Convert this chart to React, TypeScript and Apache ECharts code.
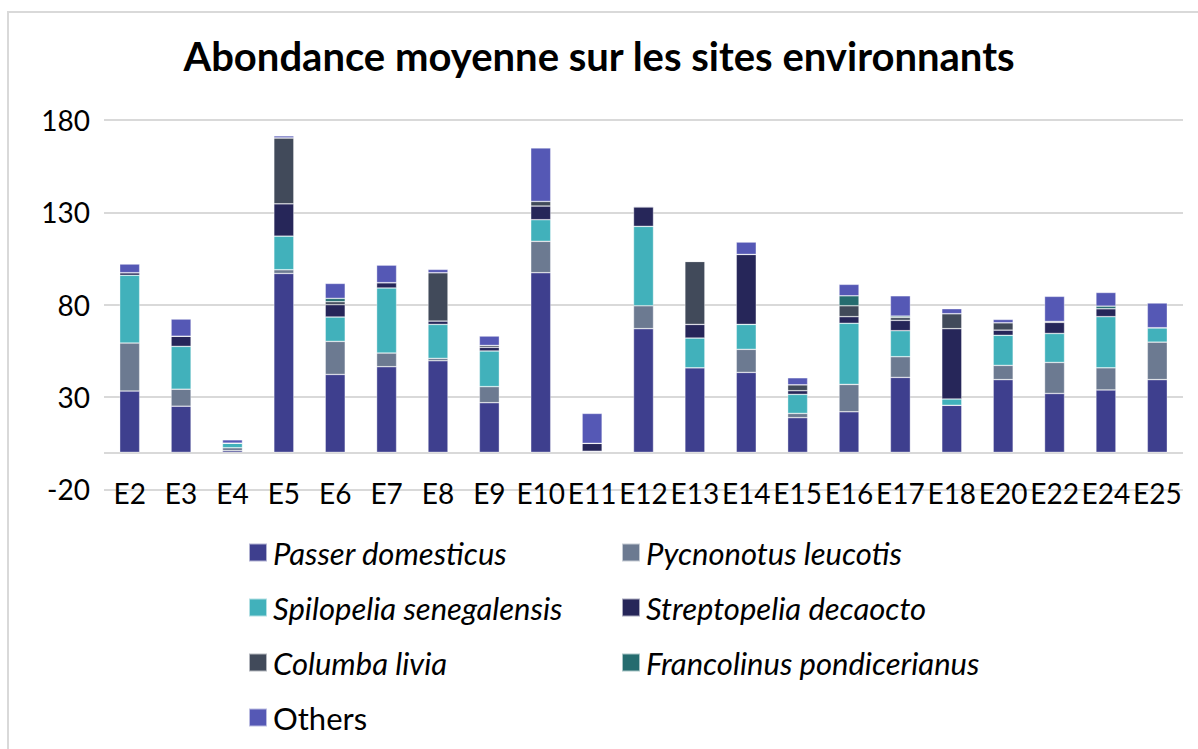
import React, { useEffect, useRef } from "react";
import * as echarts from "echarts";

const categories = ["E2","E3","E4","E5","E6","E7","E8","E9","E10","E11","E12","E13","E14","E15","E16","E17","E18","E20","E22","E24","E25"];
const seriesNames = ["Passer domesticus","Pycnonotus leucotis","Spilopelia senegalensis","Streptopelia decaocto","Columba livia","Francolinus pondicerianus","Others"];
const colors = ["#3E3F8E","#6C7A91","#41B1BB","#262659","#414A5A","#256C6F","#5558B5"];

const passer =       [33.2, 25.0, 0.9, 96.9, 42.2, 46.4, 49.6, 26.9, 97.3, 0.6, 67.0, 45.8, 43.3, 18.8, 22.0, 40.6, 25.5, 39.4, 31.9, 33.8, 39.4];
const pycnonotus =   [26.0, 9.2, 1.6, 2.0, 17.9, 7.4, 1.3, 8.7, 17.0, 0, 12.4, 0, 12.5, 2.3, 14.8, 11.2, 0, 7.7, 16.8, 12.0, 20.3];
const spilopelia =   [36.7, 23.2, 2.5, 18.2, 13.2, 35.2, 18.4, 19.3, 11.7, 0, 43.0, 16.1, 13.5, 10.3, 33.1, 14.1, 3.4, 16.3, 15.7, 27.7, 7.8];
const streptopelia = [1.4, 5.5, 0, 17.5, 6.7, 2.9, 1.8, 2.0, 7.4, 4.3, 10.6, 7.4, 37.9, 2.0, 3.6, 5.6, 38.1, 2.8, 6.0, 4.3, 0];
const columba =      [0, 0, 0, 35.7, 1.6, 0, 26.2, 1.0, 2.5, 0, 0, 34.1, 0, 3.2, 5.9, 1.6, 8.1, 4.0, 0.5, 0, 0];
const francolinus =  [0, 0, 0, 0, 1.8, 0, 0, 0, 0, 0, 0, 0, 0, 0, 5.4, 0.7, 0, 0, 0, 1.4, 0];
const others =       [4.7, 9.3, 1.8, 1.1, 8.1, 9.5, 1.8, 5.1, 29.0, 16.2, 0.4, 0, 6.7, 3.8, 6.2, 11.0, 2.7, 1.8, 13.6, 7.4, 13.4];

const yTicks = { min: -20, max: 180, interval: 50 };
const titleText = "Abondance moyenne sur les sites environnants";

const FONT = "Lato";

export default function App() {
  const ref = useRef<HTMLDivElement>(null);
  useEffect(() => {
    if (!ref.current) return;
    const chart = echarts.init(ref.current, null, { renderer: "svg" });
    const values = [passer, pycnonotus, spilopelia, streptopelia, columba, francolinus, others];
    const series: any[] = values.map((arr, i) => ({
      name: seriesNames[i],
      type: "bar",
      stack: "total",
      barWidth: 20,
      data: arr,
      itemStyle: { color: colors[i], borderColor: "rgba(255,255,255,0.6)", borderWidth: 0.6 },
      ...(i === 0
        ? {
            markLine: {
              silent: true,
              symbol: "none",
              label: { show: false },
              lineStyle: { color: "#d9d9d9", width: 2, type: "solid" },
              data: [{ yAxis: 0 }],
              z: 1,
            },
          }
        : {}),
    }));
    const legendText = {
      fontFamily: FONT,
      fontSize: 31,
      fontStyle: "italic",
      color: "#000",
      lineHeight: 31,
      padding: [0, 0, 0, 1],
    };
    const item = (name: string) =>
      name === "Others" ? { name, textStyle: { fontStyle: "normal" } } : { name };
    const legendBase = {
      orient: "vertical",
      top: 537,
      padding: 0,
      itemWidth: 18,
      itemHeight: 18,
      itemGap: 24,
      icon: "rect",
      textStyle: legendText,
      selectedMode: false,
    };
    chart.setOption({
      animation: false,
      backgroundColor: "#fff",
      title: {
        text: titleText,
        left: "center",
        top: 36,
        padding: 0,
        textStyle: { fontFamily: FONT, fontWeight: "bold", fontSize: 40, color: "#000" },
      },
      grid: { left: 104, right: 15, top: 120, bottom: 259.7, containLabel: false },
      xAxis: {
        type: "category",
        data: categories,
        position: "bottom",
        axisLine: { show: false, onZero: false },
        axisTick: { show: false },
        axisLabel: {
          fontFamily: FONT,
          fontSize: 28,
          color: "#000",
          verticalAlign: "middle",
          margin: 4,
          interval: 0,
        },
      },
      yAxis: {
        type: "value",
        min: yTicks.min,
        max: yTicks.max,
        interval: yTicks.interval,
        axisLine: { show: false },
        axisTick: { show: false },
        splitLine: { lineStyle: { color: "#d9d9d9", width: 2 } },
        axisLabel: { fontFamily: FONT, fontSize: 28, color: "#000", margin: 14 },
      },
      legend: [
        {
          ...legendBase,
          left: 248,
          data: [seriesNames[0], seriesNames[2], seriesNames[4], seriesNames[6]].map(item),
        },
        {
          ...legendBase,
          left: 621,
          data: [seriesNames[1], seriesNames[3], seriesNames[5]].map(item),
        },
      ],
      graphic: [
        {
          type: "rect",
          shape: { x: 8, y: 12, width: 1400, height: 1000 },
          style: { fill: "none", stroke: "#d9d9d9", lineWidth: 2 },
          silent: true,
          z: -1,
        },
      ],
      series,
    });
    return () => chart.dispose();
  }, []);
  return <div ref={ref} style={{ position: "fixed", left: 0, top: 0, width: 1198, height: 749 }} />;
}
